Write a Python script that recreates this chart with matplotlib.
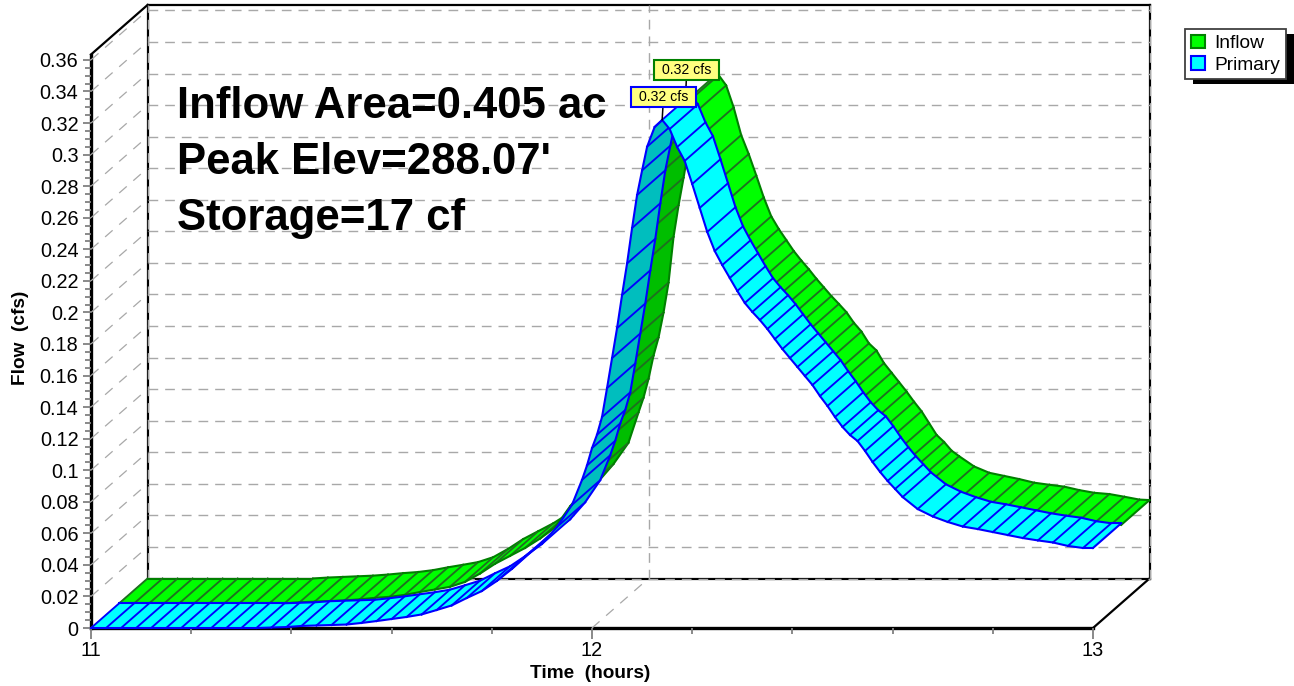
import matplotlib

matplotlib.use("Agg")
import matplotlib.pyplot as plt
from matplotlib.patches import Patch, Rectangle
from matplotlib.path import Path

plt.rcParams["font.family"] = ["Liberation Sans", "DejaVu Sans"]

# hydrograph samples, hours (finer where the curve moves fast)
time_hours = [
    11.00, 11.03, 11.06, 11.09, 11.12, 11.15, 11.18, 11.21, 11.24, 11.27,
    11.30, 11.33, 11.36, 11.39, 11.42, 11.45, 11.48, 11.51, 11.54, 11.57,
    11.60, 11.63, 11.66, 11.69, 11.72, 11.75, 11.78, 11.81, 11.84, 11.87,
    11.90, 11.93, 11.96, 11.98, 11.99, 12.00, 12.01, 12.02, 12.03, 12.04,
    12.05, 12.06, 12.07, 12.08, 12.09, 12.10, 12.11, 12.125, 12.14,
    12.155, 12.17, 12.185, 12.20, 12.215, 12.23, 12.245, 12.26, 12.275, 12.29,
    12.305, 12.32, 12.335, 12.35, 12.365, 12.38, 12.395, 12.41, 12.425, 12.44,
    12.455, 12.47, 12.485, 12.50, 12.515, 12.53, 12.545, 12.56, 12.575, 12.59,
    12.605, 12.62, 12.65, 12.68, 12.71, 12.74, 12.77, 12.80, 12.83, 12.86,
    12.89, 12.92, 12.95, 12.98, 13.00,
]
# flow, cfs
inflow = [
    0, 0, 0, 0, 0, 0, 0, 0, 0, 0,
    0, 0, 0.0006, 0.001, 0.0014, 0.0018, 0.0025, 0.0034, 0.0041, 0.0053,
    0.0071, 0.0087, 0.0104, 0.0135, 0.0188, 0.025, 0.03, 0.035, 0.041, 0.048,
    0.0615, 0.0725, 0.086, 0.1052, 0.1145, 0.1265, 0.1412, 0.1527, 0.1685, 0.1875,
    0.2165, 0.2365, 0.254, 0.2725, 0.2875, 0.299, 0.309, 0.3165, 0.319,
    0.3125, 0.2985, 0.281, 0.269, 0.2555, 0.2415, 0.2295, 0.2215, 0.2145, 0.2075,
    0.2015, 0.196, 0.19, 0.1845, 0.179, 0.174, 0.1688, 0.162, 0.1565, 0.149,
    0.1445, 0.1365, 0.1305, 0.1245, 0.1185, 0.112, 0.106, 0.0985, 0.091, 0.0865,
    0.081, 0.0775, 0.071, 0.067, 0.065, 0.063, 0.0607, 0.0594, 0.0582, 0.056,
    0.0543, 0.0535, 0.0518, 0.05, 0.0497,
]
primary = [
    0, 0, 0, 0, 0, 0, 0, 0, 0, 0,
    0, 0, 0.0003, 0.0006, 0.0013, 0.0016, 0.0019, 0.0022, 0.0032, 0.0044,
    0.0057, 0.007, 0.0086, 0.0114, 0.0143, 0.019, 0.0234, 0.0298, 0.0374, 0.0463,
    0.0532, 0.064, 0.078, 0.0938, 0.103, 0.114, 0.1225, 0.1337, 0.152, 0.171,
    0.19, 0.211, 0.231, 0.2535, 0.2744, 0.29, 0.305, 0.3175, 0.322,
    0.3162, 0.3048, 0.296, 0.2814, 0.2662, 0.251, 0.2389, 0.23, 0.2218, 0.2136,
    0.206, 0.2003, 0.1952, 0.1895, 0.1831, 0.1768, 0.1711, 0.1654, 0.1597, 0.154,
    0.147, 0.1407, 0.1337, 0.1274, 0.1223, 0.1185, 0.1122, 0.1052, 0.0989, 0.0932,
    0.0881, 0.083, 0.0754, 0.0707, 0.0672, 0.0643, 0.0627, 0.0608, 0.0589, 0.057,
    0.0555, 0.0542, 0.052, 0.0507, 0.0507,
]
y_major = [0, 0.02, 0.04, 0.06, 0.08, 0.1, 0.12, 0.14, 0.16, 0.18, 0.2, 0.22,
           0.24, 0.26, 0.28, 0.3, 0.32, 0.34, 0.36]
x_major = [11, 12, 13]
x_minor = [11.2, 11.4, 11.6, 11.8, 12.2, 12.4, 12.6, 12.8]
peak_label = "0.32 cfs"
info_lines = ["Inflow Area=0.405 ac", "Peak Elev=288.07'", "Storage=17 cf"]

W, H = 1294, 686
# depth of the fake 3d box in data units
DT = 56.5 / 501
DQ = 49.5 / 1578


def shift(t, q, depth):
    return t + DT * depth, q + DQ * depth


def draw_ribbon(ax, t, q, d0, d1, light, dark, edge, hatch, z):
    for i in range(len(t) - 1):
        fx, fy = shift(t[i], q[i], d0)
        fx2, fy2 = shift(t[i + 1], q[i + 1], d0)
        bx, by = shift(t[i], q[i], d1)
        bx2, by2 = shift(t[i + 1], q[i + 1], d1)
        # underside of the ribbon shows where the curve climbs faster than the depth axis
        under = (q[i + 1] - q[i]) / DQ > (t[i + 1] - t[i]) / DT
        ax.fill([fx, fx2, bx2, bx], [fy, fy2, by2, by], color=dark if under else light,
                lw=0, zorder=z, clip_on=False)
        ax.plot([fx, bx], [fy, by], color=hatch, lw=1.35, zorder=z + 0.1, clip_on=False)
        for xs, ys in [([fx, fx2], [fy, fy2]), ([bx, bx2], [by, by2])]:
            ax.plot(xs, ys, color=edge, lw=1.5, zorder=z + 0.2, clip_on=False,
                    solid_capstyle="round")
        z += 0.3
    fx, fy = shift(t[-1], q[-1], d0)
    bx, by = shift(t[-1], q[-1], d1)
    ax.plot([fx, bx], [fy, by], color=edge, lw=1.5, zorder=z, clip_on=False)
    return z + 1


def label_box(x0, y0, w, h, size):
    # plain rectangle, wider than it is tall, square bbox pad can't do this
    x0, x1 = x0 - 8, x0 + w + 8
    y0, y1 = y0 - 3, y0 + h + 3
    return Path([(x0, y0), (x1, y0), (x1, y1), (x0, y1), (x0, y0)], closed=True)


fig = plt.figure(figsize=(W / 100, H / 100), dpi=100)
ax_h = 573.5
ax = fig.add_axes([91 / W, (H - 628) / H, 1002 / W, ax_h / H])
ax.set_xlim(11, 13)
ax.set_ylim(0, ax_h / 1578)
ax.patch.set_visible(False)
ax.spines["top"].set_visible(False)
ax.spines["right"].set_visible(False)
ax.spines["left"].set_linewidth(2.4)
ax.spines["bottom"].set_linewidth(2.4)
ax.spines["left"].set_zorder(1)
ax.spines["bottom"].set_zorder(1)

ax.set_xticks(x_major)
ax.set_xticklabels([str(v) for v in x_major])
ax.set_xticks(x_minor, minor=True)
ax.set_yticks(y_major)
ax.set_yticklabels([f"{v:g}" for v in y_major])
ax.set_yticks([v / 1000 for v in range(5, 360, 5) if v % 20], minor=True)
ax.tick_params(axis="both", which="major", color="#808080", width=1.3, labelsize=14.3, pad=3)
ax.tick_params(axis="y", which="major", length=6)
ax.tick_params(axis="x", which="major", length=8, pad=1)
ax.tick_params(axis="both", which="minor", color="#808080", width=1.3, length=4)

ax.set_xlabel("Time  (hours)", fontsize=13.7, fontweight="bold", va="center")
ax.xaxis.set_label_coords(499 / 1002, -45 / ax_h)
ax.set_ylabel("Flow  (cfs)", fontsize=13.7, fontweight="bold", va="center")
ax.yaxis.set_label_coords(-70 / 1002, (628 - 338) / ax_h)

# back wall box
t0, t1 = x_major[0] + DT, x_major[-1] + DT
top = ax.get_ylim()[1]
wall_top = top + DQ
for xs, ys in [([t0, t0], [DQ, wall_top]), ([t1, t1], [DQ, wall_top]),
               ([t0, t1], [DQ, DQ]), ([t0, t1], [wall_top, wall_top])]:
    ax.plot(xs, ys, color="black", lw=1.6, zorder=1.5, clip_on=False)
ax.plot([11, t0], [top, wall_top], color="black", lw=1.6, zorder=1.5, clip_on=False)
ax.plot([13, t1], [0, DQ], color="black", lw=1.6, zorder=1.5, clip_on=False)

grid = dict(color="#A8A8A8", lw=1.0, dashes=(7, 5), zorder=2, clip_on=False)
for v in y_major:
    ax.plot([t0, t1], [v + DQ, v + DQ], **grid)
    ax.plot([11, t0], [v, v + DQ], color="#A8A8A8", lw=0.9, dashes=(8, 7), zorder=2, clip_on=False)
for v in x_major:
    ax.plot([v + DT, v + DT], [DQ, wall_top], **grid)
ax.plot([12, 12 + DT], [0, DQ], color="#A8A8A8", lw=0.9, dashes=(8, 7), zorder=2, clip_on=False)

z = draw_ribbon(ax, time_hours, inflow, 0.5, 1.0, "#00FF00", "#00BE00", "#008000", "#1F701F", 3)
z = draw_ribbon(ax, time_hours, primary, 0.0, 0.5, "#00FFFF", "#00BEBE", "#0000FF", "#0000FF", z)

for t_pk, q_pk, depth, off_x, off_y, edge in [
    (12.13, max(inflow), 0.5, 1, 21.2, "#008000"),
    (12.14, max(primary), 0.0, 1, 16.2, "#0000FF"),
]:
    px, py = shift(t_pk, q_pk, depth)
    ax.annotate(peak_label, xy=(px, py), xytext=(off_x, off_y), textcoords="offset points",
                fontsize=10.2, ha="center", va="center", annotation_clip=False, zorder=z + 2,
                bbox=dict(boxstyle=label_box, fc="#FFFF80", ec=edge, lw=1.5),
                arrowprops=dict(arrowstyle="-", color="black", lw=1.1, shrinkA=0, shrinkB=0))

for line, y_px in zip(info_lines, [107, 162, 218]):
    ax.text(177 / W, 1 - y_px / H, line, transform=fig.transFigure, fontsize=31.5,
            fontweight="bold", color="black", va="center", ha="left", zorder=z + 1)

# legend with its hard black shadow
fig.add_artist(Rectangle((1193 / W, 1 - 84 / H), 101 / W, 50 / H, transform=fig.transFigure,
                         fc="black", ec="none"))
handles = [
    Patch(fc="#00FF00", ec="#008000", lw=1.5, label="Inflow"),
    Patch(fc="#00FFFF", ec="#0000FF", lw=1.5, label="Primary"),
]
leg = fig.legend(handles=handles, loc="upper left", bbox_to_anchor=(1185 / W, 1 - 29 / H),
                 bbox_transform=fig.transFigure, fontsize=13.8, fancybox=False, framealpha=1,
                 edgecolor="#404040", borderpad=0.3, borderaxespad=0, labelspacing=0.2,
                 handlelength=0.72, handleheight=0.72, handletextpad=0.5)
leg.get_frame().set_linewidth(1.3)
leg.set_zorder(10)

fig.savefig("out.png", dpi=100)
